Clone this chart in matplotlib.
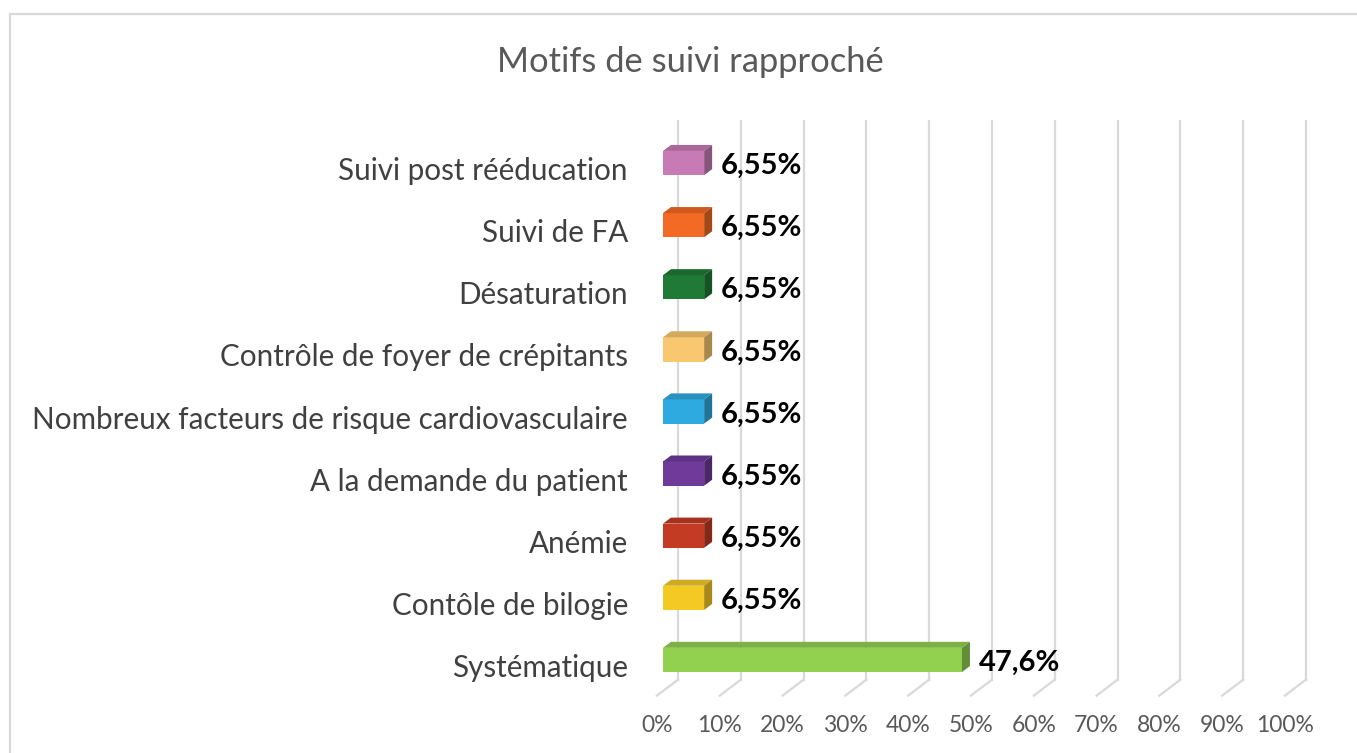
import matplotlib.pyplot as plt
from matplotlib.patches import Polygon
from matplotlib.lines import Line2D
import matplotlib.colors as mcolors

# ── Data ──────────────────────────────────────────────────────────────────────
categories = [
    "Systématique",
    "Contôle de bilogie",
    "Anémie",
    "A la demande du patient",
    "Nombreux facteurs de risque cardiovasculaire",
    "Contrôle de foyer de crépitants",
    "Désaturation",
    "Suivi de FA",
    "Suivi post rééducation",
]
values = [47.6, 6.55, 6.55, 6.55, 6.55, 6.55, 6.55, 6.55, 6.55]
value_labels = ["47,6%", "6,55%", "6,55%", "6,55%", "6,55%",
                "6,55%", "6,55%", "6,55%", "6,55%"]
colors = ["#92D050", "#F5C924", "#C33B22", "#6F3A9A", "#2FAAE1",
          "#F8C76F", "#1F7A35", "#F26A24", "#C77AB4"]
ticks = list(range(0, 101, 10))
tick_labels = [f"{t}%" for t in ticks]

# ── Figure / axes ─────────────────────────────────────────────────────────────
W, H = 1357, 753
plt.rcParams["font.family"] = ["Lato", "DejaVu Sans"]
fig = plt.figure(figsize=(W / 100, H / 100), dpi=100)
fig.patch.set_facecolor("white")

ax_l, ax_r, ax_t, ax_b = 663, 1291, 132, 691
ax = fig.add_axes([ax_l / W, 1 - ax_b / H, (ax_r - ax_l) / W, (ax_b - ax_t) / H])
ax.set_xlim(0, 100)
ax.set_ylim(-0.5, 8.5)
ax.axis("off")

# data units per pixel, used for the fake 3D depth
ux = 100 / (ax_r - ax_l)
uy = 9 / (ax_b - ax_t)

grid_c = "#d9d9d9"
back_dx, back_dy = 15, 11.4     # back wall relative to bar front plane
front_dx, front_dy = -6, -4.6   # front floor edge relative to bar front plane

# back wall gridlines + floor lines
for t, tl in zip(ticks, tick_labels):
    xb = t + back_dx * ux
    ax.add_line(Line2D([xb, xb], [-0.5 + back_dy * uy, 8.5 + back_dy * uy],
                       color=grid_c, lw=1.6, clip_on=False, zorder=1))
    ax.add_line(Line2D([xb, t + front_dx * ux],
                       [-0.5 + back_dy * uy, -0.5 + front_dy * uy],
                       color=grid_c, lw=1.6, clip_on=False, zorder=1))
    ax.text(t + front_dx * ux, -0.5 - 35 * uy, tl, ha="center", va="center",
            fontsize=16.5, color="#595959")


def shade(c, f):
    r, g, b = mcolors.to_rgb(c)
    return (r * f, g * f, b * f)


h = 0.39
ddx, ddy = 8 * ux, 6 * uy
for i, (cat, v, lab, c) in enumerate(zip(categories, values, value_labels, colors)):
    b, t = i - h / 2, i + h / 2
    ax.add_patch(Polygon([(0, b), (v, b), (v, t), (0, t)], closed=True,
                         facecolor=c, edgecolor="none", zorder=3, clip_on=False))
    ax.add_patch(Polygon([(0, t), (v, t), (v + ddx, t + ddy), (ddx, t + ddy)],
                         closed=True, facecolor=shade(c, 0.85), edgecolor="none",
                         zorder=3, clip_on=False))
    ax.add_patch(Polygon([(v, b), (v + ddx, b + ddy), (v + ddx, t + ddy), (v, t)],
                         closed=True, facecolor=shade(c, 0.68), edgecolor="none",
                         zorder=3, clip_on=False))
    ax.text(v + 17 * ux, i - 3 * uy, lab, ha="left", va="center",
            fontsize=21, fontweight="bold", color="black", zorder=4)
    ax.text(-35 * ux, i - 8 * uy, cat, ha="right", va="center",
            fontsize=21.3, color="#404040")

fig.text(690 / W, 1 - 62 / H, "Motifs de suivi rapproché", ha="center", va="center",
         fontsize=24.8, color="#595959")

# chart border (left and top only visible)
fig.add_artist(Line2D([9.5 / W, 9.5 / W], [0, 1 - 14 / H], color=grid_c, lw=1.6))
fig.add_artist(Line2D([9.5 / W, 1], [1 - 14 / H, 1 - 14 / H], color=grid_c, lw=1.6))

fig.savefig("out.png", dpi=100)
